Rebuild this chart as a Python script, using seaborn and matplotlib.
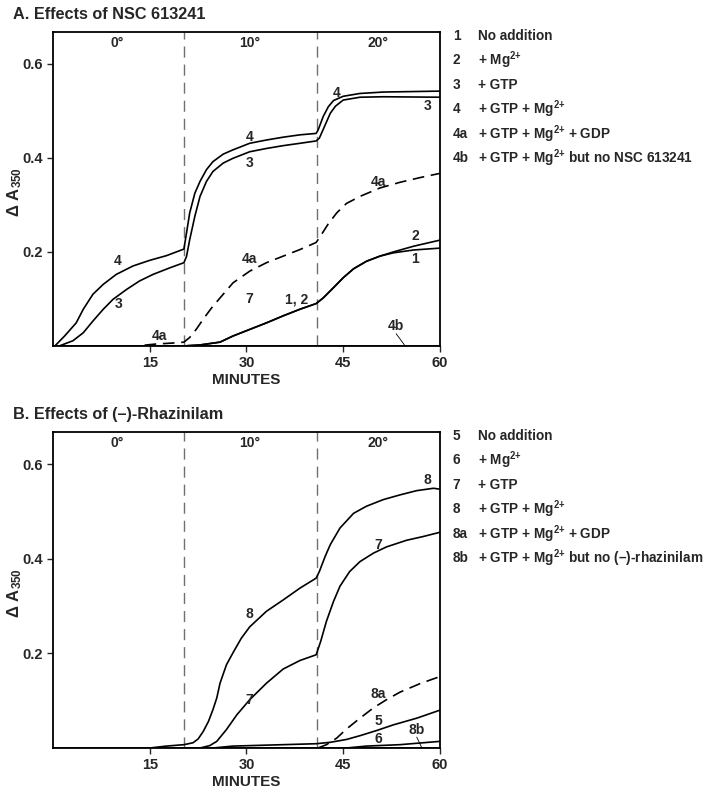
import matplotlib
matplotlib.use("Agg")
import matplotlib.pyplot as plt
import seaborn as sns

# -----------------------------
# DATA  (minutes, delta A350)
# -----------------------------

# Panel A - NSC 613241
a4_t = [0.3, 1.8, 3.6, 4.7, 6.2, 7.8, 9.8, 12.4, 15, 17.6, 20.3,
        20.7, 21.2, 22, 22.8, 23.8, 24.8, 26.4, 27.9, 30.5, 33.1, 35.7, 38.3, 40.8,
        41.1, 41.9, 42.7, 43.5, 45, 47.6, 51.2, 60]
a4_y = [0, 0.021, 0.049, 0.078, 0.11, 0.131, 0.152, 0.17, 0.182, 0.192, 0.206,
        0.24, 0.283, 0.325, 0.35, 0.375, 0.392, 0.408, 0.417, 0.431, 0.438, 0.444, 0.449, 0.452,
        0.459, 0.488, 0.509, 0.522, 0.531, 0.537, 0.54, 0.542]

a3_t = [1.0, 3.1, 4.7, 6.2, 7.8, 9.3, 11.4, 13.4, 15.5, 18.1, 20.3,
        20.7, 21.2, 22, 22.8, 23.8, 24.8, 26.4, 27.9, 30.5, 33.1, 35.7, 38.3, 40.8,
        41.3, 42.2, 43, 43.8, 45, 47.6, 51.2, 60]
a3_y = [0, 0.011, 0.028, 0.053, 0.078, 0.099, 0.12, 0.138, 0.152, 0.166, 0.177,
        0.19, 0.226, 0.276, 0.318, 0.35, 0.371, 0.389, 0.399, 0.413, 0.42, 0.426, 0.431, 0.436,
        0.442, 0.47, 0.495, 0.51, 0.523, 0.529, 0.53, 0.529]

a4a_t = [0, 13, 16, 18.5, 20.3, 21.2, 22.2, 23.3, 24.6, 25.9, 27.9, 30.5, 33.1, 35.7, 38.3, 40.8,
         41.4, 42.7, 44, 45.5, 47.6, 50.7, 53.8, 56.9, 60]
a4a_y = [0, 0, 0.004, 0.006, 0.008, 0.018, 0.035, 0.057, 0.081, 0.102, 0.134, 0.159, 0.177, 0.191, 0.205, 0.22,
         0.232, 0.26, 0.283, 0.303, 0.318, 0.336, 0.348, 0.358, 0.367]

a1_t = [20.4, 22.8, 25.9, 27.9, 30.5, 33.1, 35.7, 38.3, 40.8, 41.9, 43.5, 45, 46.6, 48.6, 50.7,
        52.8, 55.9, 60]
a1_y = [0, 0.002, 0.008, 0.021, 0.035, 0.049, 0.064, 0.078, 0.09, 0.102, 0.124, 0.145, 0.164, 0.18, 0.191,
        0.198, 0.204, 0.208]
a2_t = [20.4, 22.8, 25.9, 27.9, 30.5, 33.1, 35.7, 38.3, 40.8, 41.9, 43.5, 45, 46.6, 48.6, 50.7,
        52.8, 55.9, 60]
a2_y = [0, 0.002, 0.008, 0.021, 0.035, 0.049, 0.064, 0.078, 0.09, 0.102, 0.124, 0.145, 0.164, 0.18, 0.191,
        0.2, 0.212, 0.225]

a4b_t = [0, 60]
a4b_y = [0.0, 0.0]

# Panel B - (-)-Rhazinilam
b8_t = [15, 17.6, 20.3, 21.7, 22.5, 23.3, 24.1, 24.8, 25.4, 25.9, 26.9, 27.9, 29.2, 30.5, 33.1, 35.7,
        38.3, 40.8, 41.3, 42.2, 43, 44.5, 46.6, 48.6, 51.2, 53.8, 56.4, 59, 60]
b8_y = [0, 0.004, 0.007, 0.011, 0.019, 0.035, 0.056, 0.081, 0.106, 0.137, 0.176, 0.201, 0.232, 0.256, 0.289, 0.313,
        0.338, 0.359, 0.373, 0.405, 0.43, 0.465, 0.496, 0.511, 0.525, 0.535, 0.544, 0.549, 0.547]

b7_t = [22.8, 24.3, 25.4, 26.9, 28.5, 30.5, 33.1, 35.7, 38.3, 40.8, 41.5, 42.4, 43.5, 44.5, 46, 47.6,
        49.7, 51.7, 54.8, 57.4, 60]
b7_y = [0, 0.005, 0.014, 0.039, 0.07, 0.102, 0.137, 0.167, 0.185, 0.197, 0.225, 0.268, 0.31, 0.342, 0.373, 0.394,
        0.412, 0.425, 0.439, 0.447, 0.456]

b5_t = [24.8, 27.9, 33.1, 40.8, 43, 45.5, 47.6, 50.2, 52.8, 56.4, 60]
b5_y = [0, 0.004, 0.006, 0.009, 0.012, 0.018, 0.026, 0.037, 0.049, 0.063, 0.08]

b6_t = [45.5, 48.6, 53.8, 60]
b6_y = [0, 0.004, 0.007, 0.014]

b8a_t = [41.1, 42.4, 44, 45.5, 47.6, 49.7, 51.7, 53.8, 56.9, 60]
b8a_y = [0, 0.007, 0.021, 0.04, 0.063, 0.085, 0.102, 0.118, 0.136, 0.151]

b8b_t = [0, 60]
b8b_y = [0.0, 0.0]

temp_shifts = [20.3, 40.9]
temp_labels = ["0°", "10°", "20°"]
temp_pos = [10, 30.5, 50.4]

MG = r"Mg$^{2{+}}$"
legend_a = [("1", "No addition"), ("2", "+ " + MG), ("3", "+ GTP"),
            ("4", "+ GTP + " + MG), ("4a", "+ GTP + " + MG + " + GDP"),
            ("4b", "+ GTP + " + MG + " but no NSC 613241")]
legend_b = [("5", "No addition"), ("6", "+ " + MG), ("7", "+ GTP"),
            ("8", "+ GTP + " + MG), ("8a", "+ GTP + " + MG + " + GDP"),
            ("8b", "+ GTP + " + MG + " but no (–)-rhazinilam")]

# curve labels: (text, x, y)
labels_a = [("4", 44, 0.539), ("3", 58.1, 0.51), ("4", 30.5, 0.445), ("3", 30.5, 0.39),
            ("4a", 50.4, 0.348), ("2", 56.1, 0.233), ("1", 56.1, 0.184), ("4", 10.1, 0.18),
            ("3", 10.1, 0.09), ("4a", 30.5, 0.184), ("7", 30.5, 0.099), ("1, 2", 37.8, 0.099),
            ("4a", 16.5, 0.021)]
labels_b = [("8", 58.1, 0.567), ("7", 50.4, 0.43), ("8", 30.5, 0.284), ("7", 30.5, 0.102),
            ("8a", 50.4, 0.115), ("5", 50.4, 0.056), ("6", 50.4, 0.019)]

# -----------------------------
# STYLE
# -----------------------------
sns.set_style("white")
plt.rcParams['font.family'] = ['Liberation Sans', 'DejaVu Sans']
plt.rcParams['font.weight'] = 'bold'
plt.rcParams['mathtext.fontset'] = 'custom'
plt.rcParams['mathtext.rm'] = 'Liberation Sans:bold'
plt.rcParams['mathtext.bf'] = 'Liberation Sans:bold'
plt.rcParams['mathtext.sf'] = 'Liberation Sans'
plt.rcParams['mathtext.it'] = 'Liberation Sans:italic'

fig = plt.figure(figsize=(7.14, 7.97), dpi=100)
axA = fig.add_axes([0.0742, 0.566, 0.542, 0.394])
axB = fig.add_axes([0.0742, 0.0615, 0.542, 0.3965])

DASH = (0, (7, 4))


def draw(ax, t, y, dashed=False):
    sns.lineplot(x=t, y=y, ax=ax, color='black', lw=1.2,
                 linestyle=DASH if dashed else '-')


def setup(ax, title, legend, curve_labels, leader):
    for xv in temp_shifts:
        ax.axvline(xv, color='#707070', lw=1.0, linestyle=(0, (8, 5)), zorder=0)
    for lab, xp in zip(temp_labels, temp_pos):
        ax.text(xp, 0.645, lab, ha='center', va='center', fontsize=10, fontweight='bold')
    for txt, xp, yp in curve_labels:
        ax.text(xp, yp, txt, ha='center', va='center', fontsize=10, fontweight='bold')
    ax.text(leader[2], leader[3], leader[0], ha='center', va='center', fontsize=10, fontweight='bold')
    ax.annotate('', xy=(leader[1], 0.0), xytext=(leader[2], leader[3] - 0.016),
                arrowprops=dict(arrowstyle='-', color='black', lw=0.6, shrinkA=0, shrinkB=0))
    ax.set_xlim(0, 60)
    ax.set_ylim(0, 0.668)
    ax.set_xticks([15, 30, 45, 60])
    ax.set_yticks([0.2, 0.4, 0.6])
    ax.set_xticklabels(['15', '30', '45', '60'])
    ax.set_yticklabels(['0.2', '0.4', '0.6'])
    ax.tick_params(axis='both', direction='out', length=4, width=1.0, labelsize=10.5, pad=3,
                   bottom=True, left=True)
    for lbl in ax.get_xticklabels() + ax.get_yticklabels():
        lbl.set_fontweight('bold')
    for sp in ax.spines.values():
        sp.set_color('black')
        sp.set_linewidth(1.3)
    ax.set_xlabel('MINUTES', fontsize=11, fontweight='bold')
    ax.xaxis.set_label_coords(0.5, -0.085)
    ax.set_ylabel(r'$\mathsf{\Delta}\ \mathbf{A}_{\mathsf{350}}$', fontsize=12)
    ax.yaxis.set_label_coords(-0.075, 0.49)
    bb = ax.get_position()
    fig.text(0.018, bb.y1 + 0.022, title, fontsize=11.7, fontweight='bold', va='center', ha='left')
    y0 = bb.y1 - 0.005
    for i, (num, desc) in enumerate(legend):
        yy = y0 - i * 0.0307
        fig.text(0.634, yy, num, fontsize=9.8, fontweight='bold', va='center')
        fig.text(0.669, yy, desc, fontsize=9.8, fontweight='bold', va='center')


# Panel A
draw(axA, a4_t, a4_y)
draw(axA, a3_t, a3_y)
draw(axA, a4a_t, a4a_y, dashed=True)
draw(axA, a1_t, a1_y)
draw(axA, a2_t, a2_y)
draw(axA, a4b_t, a4b_y)
setup(axA, "A. Effects of NSC 613241", legend_a, labels_a, ("4b", 54.6, 53.2, 0.042))

# Panel B
draw(axB, b8_t, b8_y)
draw(axB, b7_t, b7_y)
draw(axB, b5_t, b5_y)
draw(axB, b6_t, b6_y)
draw(axB, b8a_t, b8a_y, dashed=True)
draw(axB, b8b_t, b8b_y)
setup(axB, "B. Effects of (–)-Rhazinilam", legend_b, labels_b, ("8b", 57.2, 56.4, 0.039))

fig.savefig("out.png", dpi=100)
